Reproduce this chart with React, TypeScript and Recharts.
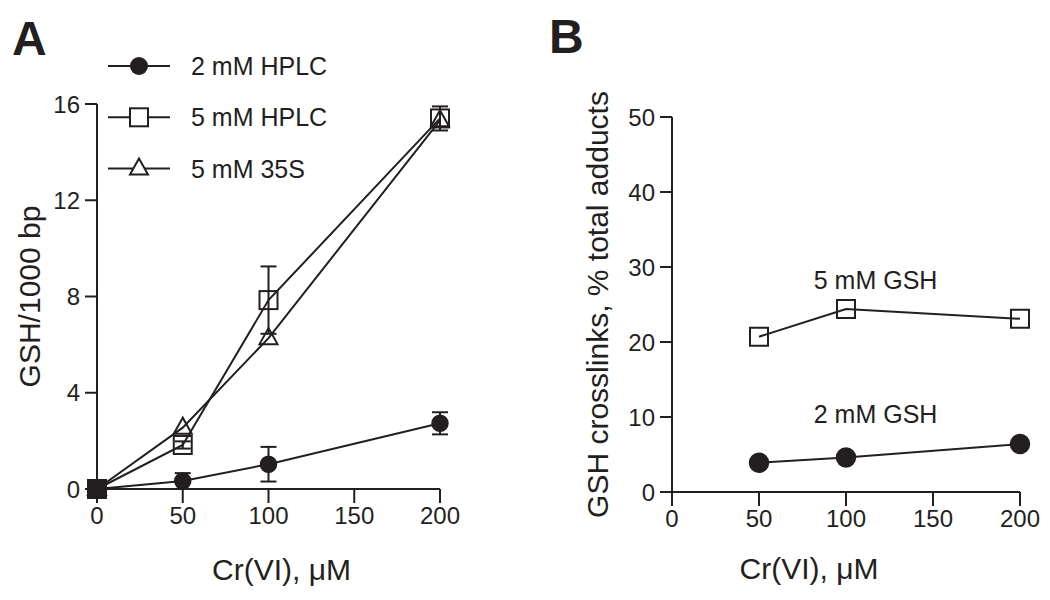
import React from 'react';
import { LineChart, Line, XAxis, YAxis, ErrorBar, Legend, ReferenceDot } from 'recharts';

const FONT = "'Liberation Sans', Arial, Helvetica, sans-serif";
const INK = '#231f20';

// Panel A
const crA = [0, 50, 100, 200];
const hplc2 = [0, 0.33, 1.03, 2.73];
const hplc2Err = [0, 0.33, 0.72, 0.46];
const hplc5 = [0, 1.83, 7.85, 15.4];
const hplc5Err = [0, 0.15, 1.4, 0.5];
const s35 = [0, 2.55, 6.27, 15.32];
const namesA = ['2 mM HPLC', '5 mM HPLC', '5 mM 35S'];
const xTicks = [0, 50, 100, 150, 200];
const yTicksA = [0, 4, 8, 12, 16];

// Panel B
const crB = [50, 100, 200];
const gsh5 = [20.7, 24.4, 23.1];
const gsh2 = [3.9, 4.6, 6.4];
const yTicksB = [0, 10, 20, 30, 40, 50];
const labelsB = ['5 mM GSH', '2 mM GSH'];

const dataA = crA.map((x, i) => ({ x, h2: hplc2[i], h2e: hplc2Err[i], h5: hplc5[i], h5e: hplc5Err[i], s35: s35[i] }));
const dataB = crB.map((x, i) => ({ x, g5: gsh5[i], g2: gsh2[i] }));

const circleDot = (r: number) => (props: any) => {
  const { cx, cy, index } = props;
  if (cx == null || cy == null) return <g key={`c-${index}`} />;
  return <circle key={`c-${index}`} cx={cx} cy={cy} r={r} fill={INK} stroke={INK} strokeWidth={1.5} />;
};
const squareDot = (s: number, fillZero: boolean) => (props: any) => {
  const { cx, cy, index, payload } = props;
  if (cx == null || cy == null) return <g key={`s-${index}`} />;
  const filled = fillZero && payload && payload.x === 0;
  return <rect key={`s-${index}`} x={cx - s / 2} y={cy - s / 2} width={s} height={s} fill={filled ? INK : 'none'} stroke={INK} strokeWidth={2} />;
};
const triDot = (props: any) => {
  const { cx, cy, index } = props;
  if (cx == null || cy == null) return <g key={`t-${index}`} />;
  return <polygon key={`t-${index}`} points={`${cx},${cy - 10} ${cx - 9},${cy + 6} ${cx + 9},${cy + 6}`} fill="none" stroke={INK} strokeWidth={2} />;
};

const tickStyle = { fontSize: 24, fill: INK, fontFamily: FONT };

const renderLegendA = () => (
  <svg width={280} height={170}>
    {namesA.map((name, i) => {
      const y = 31 + i * 51.3;
      return (
        <g key={name}>
          <line x1={8} x2={70} y1={y} y2={y} stroke={INK} strokeWidth={2} />
          {i === 0 && <circle cx={39} cy={y} r={9} fill={INK} />}
          {i === 1 && <rect x={30} y={y - 9} width={18} height={18} fill="white" stroke={INK} strokeWidth={2} />}
          {i === 2 && <polygon points={`39,${y - 10} 30,${y + 6} 48,${y + 6}`} fill="white" stroke={INK} strokeWidth={2} />}
          <text x={91} y={y} dy="0.36em" fontSize={25} fill={INK} fontFamily={FONT}>{name}</text>
        </g>
      );
    })}
  </svg>
);

const yLabel = (text: string, dx: number) => (props: any) => {
  const vb = props.viewBox || {};
  const x = vb.x + dx;
  const y = vb.y + vb.height / 2;
  return (
    <text x={x} y={y} transform={`rotate(-90, ${x}, ${y})`} textAnchor="middle" fontSize={30} fill={INK} fontFamily={FONT}>
      {text}
    </text>
  );
};
const xLabel = (text: string, dx: number, dy: number) => (props: any) => {
  const vb = props.viewBox || {};
  const x = vb.x + vb.width / 2 + dx;
  const y = vb.y + dy;
  return (
    <text x={x} y={y} textAnchor="middle" fontSize={30} fill={INK} fontFamily={FONT}>
      {text}
    </text>
  );
};

export default function App() {
  return (
    <div style={{ position: 'absolute', left: 0, top: 0, width: 1050, height: 600, background: '#fff', fontFamily: FONT }}>
      <svg style={{ position: 'absolute', left: 0, top: 0 }} width={1050} height={80}>
        <text x={12} y={55} fontSize={48} fontWeight="bold" fill={INK} fontFamily={FONT}>A</text>
        <text x={549} y={53} fontSize={48} fontWeight="bold" fill={INK} fontFamily={FONT}>B</text>
      </svg>

      <div style={{ position: 'absolute', left: 0, top: 0 }}>
        <LineChart width={470} height={600} data={dataA} margin={{ top: 104, right: 30, bottom: 0, left: 0 }}>
          <XAxis
            dataKey="x"
            type="number"
            domain={[0, 200]}
            ticks={xTicks}
            height={111}
            tickSize={14}
            tickMargin={4}
            tick={tickStyle}
            axisLine={{ stroke: INK, strokeWidth: 2 }}
            tickLine={{ stroke: INK, strokeWidth: 2 }}
            label={{ content: xLabel('Cr(VI), μM', 13, 91) }}
          />
          <YAxis
            type="number"
            domain={[0, 16]}
            ticks={yTicksA}
            width={97}
            tickSize={12}
            tickMargin={5}
            tick={tickStyle}
            axisLine={{ stroke: INK, strokeWidth: 2 }}
            tickLine={{ stroke: INK, strokeWidth: 2 }}
            label={{ content: yLabel('GSH/1000 bp', 40) }}
          />
          <Legend
            layout="vertical"
            align="center"
            verticalAlign="middle"
            content={renderLegendA}
            wrapperStyle={{ left: 100, top: 35, width: 280, height: 170 }}
          />
          <Line dataKey="s35" stroke={INK} strokeWidth={2} dot={triDot} isAnimationActive={false} />
          <Line dataKey="h5" stroke={INK} strokeWidth={2} dot={squareDot(18, true)} isAnimationActive={false}>
            <ErrorBar dataKey="h5e" width={8} stroke={INK} strokeWidth={2} direction="y" />
          </Line>
          <Line dataKey="h2" stroke={INK} strokeWidth={2} dot={circleDot(8)} isAnimationActive={false}>
            <ErrorBar dataKey="h2e" width={8} stroke={INK} strokeWidth={2} direction="y" />
          </Line>
        </LineChart>
      </div>

      <div style={{ position: 'absolute', left: 560, top: 0 }}>
        <LineChart width={490} height={600} data={dataB} margin={{ top: 117, right: 30, bottom: 0, left: 0 }}>
          <XAxis
            dataKey="x"
            type="number"
            domain={[0, 200]}
            ticks={xTicks}
            height={108}
            tickSize={14}
            tickMargin={4}
            tick={tickStyle}
            axisLine={{ stroke: INK, strokeWidth: 2 }}
            tickLine={{ stroke: INK, strokeWidth: 2 }}
            label={{ content: xLabel('Cr(VI), μM', -37, 87) }}
          />
          <YAxis
            type="number"
            domain={[0, 50]}
            ticks={yTicksB}
            width={112}
            tickSize={12}
            tickMargin={5}
            tick={tickStyle}
            axisLine={{ stroke: INK, strokeWidth: 2 }}
            tickLine={{ stroke: INK, strokeWidth: 2 }}
            label={{ content: yLabel('GSH crosslinks, % total adducts', 48) }}
          />
          <Line dataKey="g5" stroke={INK} strokeWidth={2} dot={squareDot(18, false)} isAnimationActive={false} />
          <Line dataKey="g2" stroke={INK} strokeWidth={2} dot={circleDot(9.5)} isAnimationActive={false} />
          <ReferenceDot x={117} y={28.2} r={0} fill="none" stroke="none" label={{ value: labelsB[0], position: 'center', fontSize: 25, fill: INK, fontFamily: FONT }} />
          <ReferenceDot x={117} y={10.4} r={0} fill="none" stroke="none" label={{ value: labelsB[1], position: 'center', fontSize: 25, fill: INK, fontFamily: FONT }} />
        </LineChart>
      </div>
    </div>
  );
}
